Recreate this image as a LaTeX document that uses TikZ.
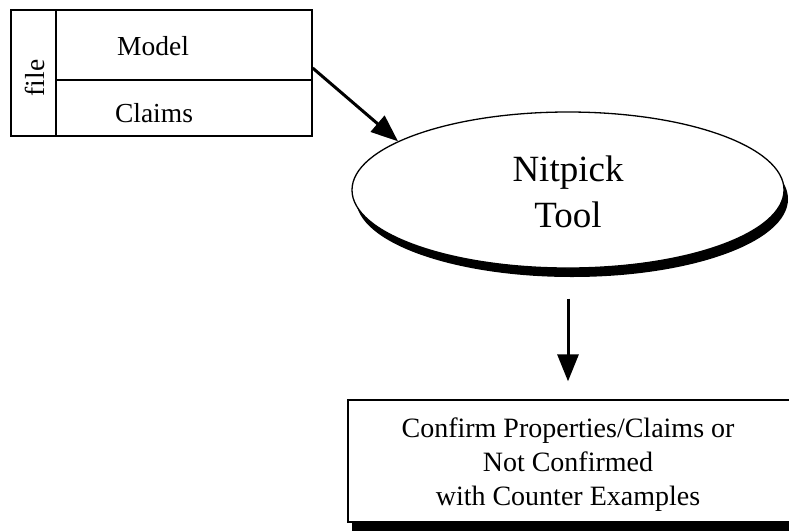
\documentclass[tikz,border=0pt]{standalone}
\usepackage{fontspec}
\setmainfont{Liberation Serif}
\usetikzlibrary{shapes.geometric,arrows.meta,shadows}
\begin{document}
\begin{tikzpicture}[x=1pt,y=-1pt,
  boxline/.style={draw=black,line width=1.3pt},
  lbl/.style={font=\fontsize{27.5}{33}\selectfont,inner sep=0pt},
  big/.style={font=\fontsize{37}{46}\selectfont,inner sep=0pt,align=center},
  res/.style={font=\fontsize{28}{34}\selectfont,inner sep=0pt,align=center},
  flow/.style={line width=3pt,-{Triangle[length=27pt,width=21pt]}},
  blackshadow/.style={general shadow={fill=black,shadow xshift=4pt,shadow yshift=-9pt}}]
\fill[white] (0,0) rectangle (789,531);
\useasboundingbox (0,0) rectangle (789,531);
% file box
\node[boxline,rectangle,minimum width=301pt,minimum height=126pt,inner sep=0pt] (file) at (161.5,73) {};
\coordinate (divtop) at (56,10);
\coordinate (divbot) at (56,136);
\draw[boxline] (divtop) -- (divbot);
\coordinate (hl) at (56,80);
\draw[boxline] (hl) -- (hl -| file.east);
\node[lbl,anchor=base] (model) at (153,55) {Model};
\node[lbl,anchor=base] (claims) at (154,122) {Claims};
\node[lbl,anchor=base,rotate=90] (filelbl) at (44,78) {file};
% tool ellipse
\node[ellipse,boxline,fill=white,minimum width=432pt,minimum height=156pt,inner sep=0pt,blackshadow] (tool) at (568,190) {};
\node[big] (tooltxt) at (568,192) {Nitpick\\Tool};
% result box (runs past the right edge)
\begin{scope}
\clip (0,0) rectangle (789,531);
\node[rectangle,boxline,fill=white,minimum width=600pt,minimum height=122pt,inner sep=0pt,blackshadow] (result) at (648,461) {};
\end{scope}
\node[res] (restxt) at (568,464.5) {Confirm Properties/Claims or\\Not Confirmed\\with Counter Examples};
% arrows
\draw[flow] ([yshift=5pt]file.east) -- (tool.164);
\draw[flow] ([yshift=-30pt]tool.south) -- ([yshift=18pt]tool.south |- result.north);
\end{tikzpicture}
\end{document}
